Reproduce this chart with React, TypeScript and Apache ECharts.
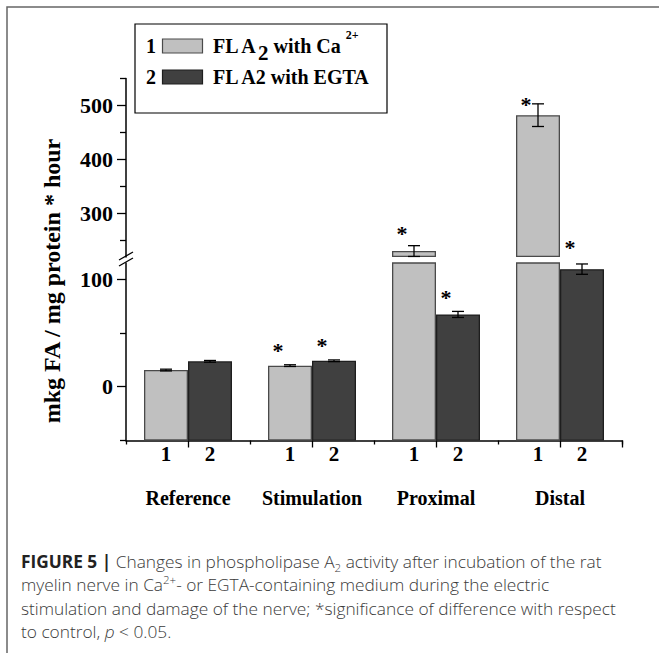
import React, { useEffect, useRef } from "react";
import * as echarts from "echarts";

// ---- data ----
const categories = ["Reference", "Stimulation", "Proximal", "Distal"];
const caValues = [15.5, 19.6, 230, 482];
const caErrors = [0.8, 0.8, 10, 21];
const egtaValues = [23.6, 24.1, 67.2, 109.3];
const egtaErrors = [0.8, 0.8, 2.8, 4.8];
// value level at which the significance asterisk is drawn (null = none)
const caStars: (number | null)[] = [null, 37.8, 270, 510];
const egtaStars: (number | null)[] = [null, 42.4, 86.7, 244];
const seriesNames = ["FL A2 with Ca2+", "FL A2 with EGTA"];
const groupNumbers = ["1", "2"];
const lowerLabelTicks = [0, 100];
const lowerMinorTicks = [-50, 50];
const upperLabelTicks = [300, 400, 500];
const upperMinorTicks = [250, 350, 450, 550];
const LOWER_RANGE = [-50, 115];
const UPPER_RANGE = [219, 550];

// ---- style / layout ----
const COLORS = ["#c0c0c0", "#404040"];
const BORDERS = ["#4a4a4a", "#1e1e1e"];
const SERIF = "Liberation Serif";
const SANS = "Open Sans";
const PLOT_LEFT = 126;
const PLOT_W = 496;
const UPPER_TOP = 78.5;
const UPPER_BOTTOM = 257;
const LOWER_TOP = 263;
const LOWER_BOTTOM = 440.5;
const BAR_WIDTH = 44;
const STAR_DX = -12;

const allSeries = [
  { values: caValues, errors: caErrors, stars: caStars },
  { values: egtaValues, errors: egtaErrors, stars: egtaStars },
];

// one slot per bar (used only for the tick between the two bars of a group)
const barSlots = categories.flatMap(() => groupNumbers);

function errorItems(upper: boolean) {
  const out: number[][] = [];
  allSeries.forEach((s, si) =>
    s.values.forEach((v, ci) => {
      if ((v > LOWER_RANGE[1]) === upper) out.push([ci, v, s.errors[ci], si]);
    })
  );
  return out;
}
function starItems(upper: boolean) {
  const out: number[][] = [];
  allSeries.forEach((s, si) =>
    s.stars.forEach((v, ci) => {
      if (v !== null && (v > LOWER_RANGE[1]) === upper) out.push([ci, v, si]);
    })
  );
  return out;
}

const errRender = (params: any, api: any) => {
  const cat = api.value(0);
  const val = api.value(1);
  const err = api.value(2);
  const si = api.value(3);
  const dx = (si === 0 ? -1 : 1) * (BAR_WIDTH / 2);
  const t = api.coord([cat, val + err]);
  const b = api.coord([cat, val - err]);
  const x = t[0] + dx;
  const st = { stroke: "#000", lineWidth: 1.3 };
  return {
    type: "group",
    children: [
      { type: "line", shape: { x1: x, y1: t[1], x2: x, y2: b[1] }, style: st },
      { type: "line", shape: { x1: x - 6, y1: t[1], x2: x + 6, y2: t[1] }, style: st },
      { type: "line", shape: { x1: x - 6, y1: b[1], x2: x + 6, y2: b[1] }, style: st },
    ],
  };
};

const starRender = (params: any, api: any) => {
  const cat = api.value(0);
  const val = api.value(1);
  const si = api.value(2);
  const dx = (si === 0 ? -1 : 1) * (BAR_WIDTH / 2) + STAR_DX;
  const p = api.coord([cat, val]);
  return {
    type: "text",
    x: p[0] + dx,
    y: p[1] + 4,
    style: {
      text: "*",
      fill: "#000",
      font: `bold 22px "${SERIF}"`,
      align: "center",
      verticalAlign: "middle",
    },
  };
};

const labelFont = { fontFamily: SERIF, fontWeight: "bold" as const, color: "#000" };

function buildOption() {
  const yMajor = (gi: number, range: number[], labels: number[]) => ({
    type: "value",
    gridIndex: gi,
    position: "left",
    min: range[0],
    max: range[1],
    startValue: range[0],
    axisLine: { show: true, onZero: false, lineStyle: { color: "#000", width: 1.5 } },
    axisTick: { show: true, length: 9, customValues: labels, lineStyle: { color: "#000", width: 1.3 } },
    axisLabel: { show: true, customValues: labels, margin: 13, fontSize: 22, ...labelFont },
    splitLine: { show: false },
  });
  const yMinor = (gi: number, range: number[], ticks: number[]) => ({
    type: "value",
    gridIndex: gi,
    position: "left",
    min: range[0],
    max: range[1],
    axisLine: { show: false, onZero: false },
    axisTick: { show: true, length: 6, customValues: ticks, lineStyle: { color: "#000", width: 1.3 } },
    axisLabel: { show: false },
    splitLine: { show: false },
  });

  const barSeries: any[] = [];
  allSeries.forEach((s, si) => {
    barSeries.push({
      type: "bar",
      name: seriesNames[si],
      xAxisIndex: 0,
      yAxisIndex: 0,
      data: s.values.map((v) => (v > LOWER_RANGE[1] ? v : "-")),
      barWidth: BAR_WIDTH,
      barGap: 0,
      clip: true,
      z: 2,
      itemStyle: { color: COLORS[si], borderColor: BORDERS[si], borderWidth: 1.3 },
    });
  });
  allSeries.forEach((s, si) => {
    barSeries.push({
      type: "bar",
      name: seriesNames[si],
      xAxisIndex: 1,
      yAxisIndex: 2,
      data: s.values,
      barWidth: BAR_WIDTH,
      barGap: 0,
      clip: true,
      z: 2,
      itemStyle: { color: COLORS[si], borderColor: BORDERS[si], borderWidth: 1.3 },
      label: {
        show: true,
        position: "bottom",
        distance: 3,
        formatter: groupNumbers[si],
        fontSize: 21,
        ...labelFont,
      },
    });
  });

  const legendRow = (i: number, y: number, rich: string) => [
    {
      type: "text",
      z: 11,
      x: 151,
      y,
      style: { text: groupNumbers[i], font: `bold 20px "${SERIF}"`, fill: "#000", align: "center", verticalAlign: "middle" },
    },
    {
      type: "rect",
      z: 11,
      shape: { x: 162.5, y: y - 7, width: 40, height: 14 },
      style: { fill: COLORS[i], stroke: BORDERS[i], lineWidth: 1.2 },
    },
    {
      type: "text",
      z: 11,
      x: 213,
      y,
      style: {
        text: rich,
        align: "left",
        verticalAlign: "middle",
        rich: {
          n: { fontFamily: SERIF, fontWeight: "bold", fontSize: 20, lineHeight: 34, fill: "#000" },
          sub: { fontFamily: SERIF, fontWeight: "bold", fontSize: 21, lineHeight: 22, verticalAlign: "bottom", fill: "#000" },
          sup: { fontFamily: SERIF, fontWeight: "bold", fontSize: 12, lineHeight: 12, verticalAlign: "top", fill: "#000" },
        },
      },
    },
  ];

  const caption =
    "{b|FIGURE 5 |}{n| Changes in phospholipase A}{sub|2}{n| activity after incubation of the rat}\n" +
    "{n|myelin nerve in Ca}{sup|2+}{n|- or EGTA-containing medium during the electric}\n" +
    "{n|stimulation and damage of the nerve; *significance of difference with respect}\n" +
    "{n|to control, }{i|p}{n| < 0.05.}";

  const capBase = { fontFamily: SANS, fontSize: 17.3, lineHeight: 23.3, fill: "#3a3a3a", fontWeight: 300 };

  return {
    animation: false,
    backgroundColor: "#fff",
    grid: [
      { left: PLOT_LEFT, top: UPPER_TOP, width: PLOT_W, height: UPPER_BOTTOM - UPPER_TOP },
      { left: PLOT_LEFT, top: LOWER_TOP, width: PLOT_W, height: LOWER_BOTTOM - LOWER_TOP },
    ],
    xAxis: [
      { type: "category", gridIndex: 0, data: categories, show: false },
      {
        type: "category",
        gridIndex: 1,
        data: categories,
        position: "bottom",
        axisLine: { show: true, onZero: false, lineStyle: { color: "#000", width: 1.5 } },
        axisTick: { show: true, length: 4, lineStyle: { color: "#000", width: 1.3 } },
        axisLabel: { margin: 47, fontSize: 20, interval: 0, ...labelFont },
        splitLine: { show: false },
      },
      {
        type: "category",
        gridIndex: 1,
        position: "bottom",
        data: barSlots,
        axisLine: { show: false, onZero: false },
        axisTick: {
          show: true,
          length: 7,
          interval: (i: number) => i % 2 === 1,
          lineStyle: { color: "#000", width: 1.3 },
        },
        axisLabel: { show: false },
        splitLine: { show: false },
      },
    ],
    yAxis: [
      yMajor(0, UPPER_RANGE, upperLabelTicks),
      yMinor(0, UPPER_RANGE, upperMinorTicks),
      yMajor(1, LOWER_RANGE, lowerLabelTicks),
      yMinor(1, LOWER_RANGE, lowerMinorTicks),
    ],
    series: [
      ...barSeries,
      { type: "custom", xAxisIndex: 0, yAxisIndex: 0, data: errorItems(true), renderItem: errRender, z: 3 },
      { type: "custom", xAxisIndex: 1, yAxisIndex: 2, data: errorItems(false), renderItem: errRender, z: 3 },
      { type: "custom", xAxisIndex: 0, yAxisIndex: 0, data: starItems(true), renderItem: starRender, z: 3 },
      { type: "custom", xAxisIndex: 1, yAxisIndex: 2, data: starItems(false), renderItem: starRender, z: 3 },
    ],
    graphic: [
      // figure frame
      {
        type: "polyline",
        shape: { points: [[7, 653], [7, 7], [659, 7]] },
        style: { stroke: "#666", lineWidth: 1.5, fill: null },
        silent: true,
      },
      // legend box
      {
        type: "rect",
        shape: { x: 135, y: 24, width: 252, height: 89 },
        style: { fill: "#fff", stroke: "#000", lineWidth: 1.2 },
        z: 10,
      },
      ...legendRow(0, 46, "{n|FL A}{sub|2}{n| with Ca }{sup|2+}"),
      ...legendRow(1, 77, "{n|FL A2 with EGTA}"),
      // axis break marks
      { type: "line", z: 12, shape: { x1: 119, y1: UPPER_BOTTOM + 3, x2: 133, y2: UPPER_BOTTOM - 5 }, style: { stroke: "#000", lineWidth: 1.3 } },
      { type: "line", z: 12, shape: { x1: 119, y1: LOWER_TOP + 3, x2: 133, y2: LOWER_TOP - 5 }, style: { stroke: "#000", lineWidth: 1.3 } },
      // y axis title
      {
        type: "text",
        x: 52,
        y: 281,
        rotation: Math.PI / 2,
        style: {
          text: "mkg FA / mg protein * hour",
          font: `bold 24px "${SERIF}"`,
          fill: "#000",
          align: "center",
          verticalAlign: "middle",
        },
      },
      // caption
      {
        type: "text",
        x: 21,
        y: 550,
        style: {
          text: caption,
          align: "left",
          verticalAlign: "top",
          rich: {
            b: { ...capBase, fontWeight: "bold", fill: "#222" },
            n: { ...capBase },
            i: { ...capBase, fontStyle: "italic" },
            sub: { fontFamily: SANS, fontSize: 11.5, lineHeight: 17, verticalAlign: "bottom", fill: "#3a3a3a", fontWeight: 300 },
            sup: { fontFamily: SANS, fontSize: 11.5, lineHeight: 18, verticalAlign: "top", fill: "#3a3a3a", fontWeight: 300 },
          },
        },
      },
    ],
  };
}

export default function App() {
  const ref = useRef<HTMLDivElement>(null);
  useEffect(() => {
    if (!ref.current) return;
    const chart = echarts.init(ref.current, undefined, { renderer: "svg" });
    chart.setOption(buildOption() as any);
    return () => chart.dispose();
  }, []);
  return (
    <div
      ref={ref}
      style={{ position: "fixed", left: 0, top: 0, width: 659, height: 653, background: "#fff" }}
    />
  );
}
